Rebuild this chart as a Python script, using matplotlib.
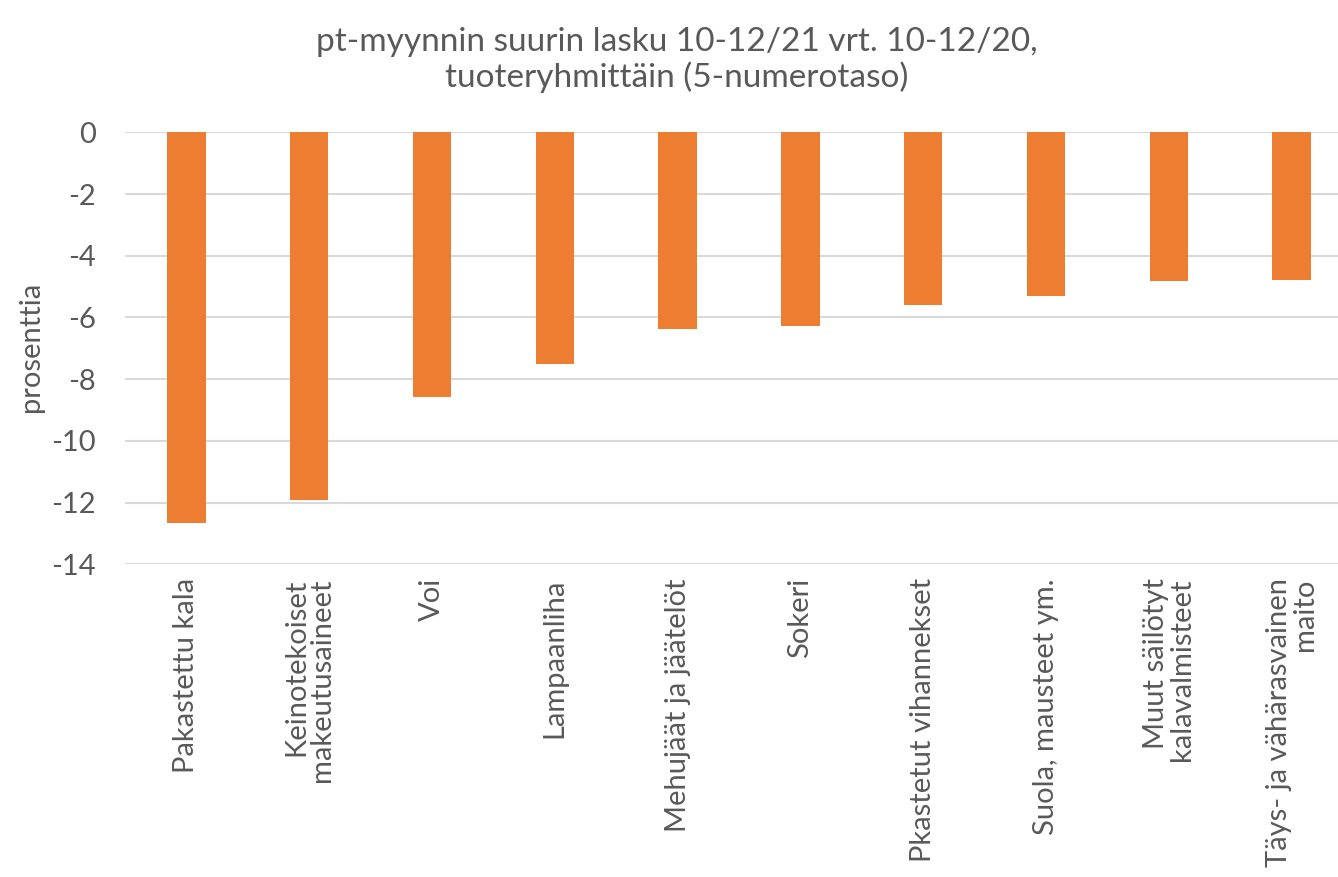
import numpy as np
import matplotlib.pyplot as plt

# Tuoteryhmät ja muutos prosentteina
categories = [
    "Pakastettu kala",
    "Keinotekoiset\nmakeutusaineet",
    "Voi",
    "Lampaanliha",
    "Mehujäät ja jäätelöt",
    "Sokeri",
    "Pkastetut vihannekset",
    "Suola, mausteet ym.",
    "Muut säilötyt\nkalavalmisteet",
    "Täys- ja vähärasvainen\nmaito",
]
values = [-12.65, -11.92, -8.59, -7.52, -6.38, -6.29, -5.61, -5.31, -4.83, -4.80]
yticks = [0, -2, -4, -6, -8, -10, -12, -14]

plt.rcParams['font.family'] = ['Lato', 'DejaVu Sans']
txt = '#595959'

fig = plt.figure(figsize=(13.38, 8.77), dpi=100)
W, H = 1338, 877
ax = fig.add_axes([125.1 / W, 1 - 564.3 / H, (1352.9 - 125.1) / W, (564.3 - 132.3) / H])

x = np.arange(len(categories))
ax.bar(x, values, width=0.313, color='#ED7D31', zorder=3)

ax.set_xlim(-0.5, len(categories) - 0.5)
ax.set_ylim(-14, 0)
ax.set_yticks(yticks)
ax.set_yticklabels([str(v) for v in yticks])
ax.grid(axis='y', color='#D9D9D9', linewidth=1.5, zorder=0)
ax.set_axisbelow(True)
for s in ax.spines.values():
    s.set_visible(False)
ax.tick_params(axis='both', length=0, colors=txt, labelsize=21)
ax.tick_params(axis='y', pad=21)
ax.tick_params(axis='x', pad=10)

ax.set_xticks(x)
ax.set_xticklabels(categories, rotation=90, va='top', ha='center', multialignment='right',
                   linespacing=1.0)

fig.text(31 / W, 1 - 347 / H, 'prosenttia', rotation=90, ha='center', va='center',
         fontsize=21, color=txt)
fig.text(677 / W, 1 - 60 / H, 'pt-myynnin suurin lasku 10-12/21 vrt. 10-12/20,\ntuoteryhmittäin (5-numerotaso)',
         ha='center', va='center', fontsize=24, color=txt, linespacing=1.15)

fig.savefig('out.png', dpi=100)
